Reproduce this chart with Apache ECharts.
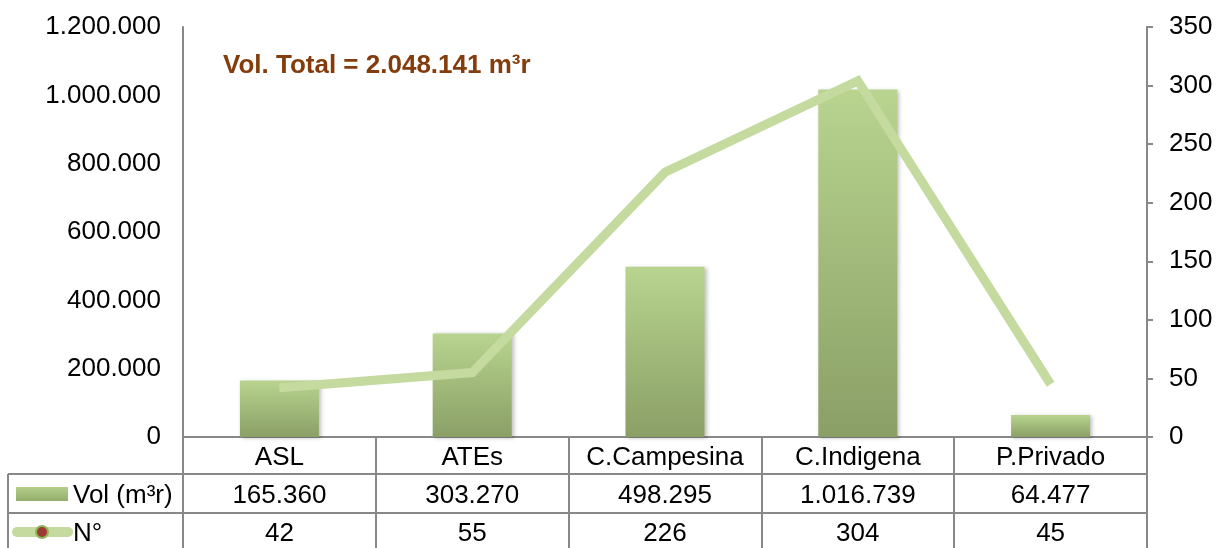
<!DOCTYPE html>
<html><head><meta charset="utf-8">
<script src="https://cdn.jsdelivr.net/npm/echarts@6/dist/echarts.min.js"></script>
<style>html,body{margin:0;padding:0;background:#fff}#c{width:1217px;height:548px}</style>
</head><body><div id="c"></div>
<script>
var categories = ['ASL', 'ATEs', 'C.Campesina', 'C.Indigena', 'P.Privado'];
var volumes = [165360, 303270, 498295, 1016739, 64477];
var counts = [42, 55, 226, 304, 45];
var seriesNames = ['Vol (m³r)', 'N°'];
var titleText = 'Vol. Total = 2.048.141 m³r';

function fmt(n) { return String(n).replace(/\B(?=(\d{3})+(?!\d))/g, '.'); }

var FONT = '"Liberation Sans", Arial, sans-serif';
var GRID = { left: 183, right: 70, top: 27, bottom: 111, containLabel: false, outerBoundsMode: 'none' };
var LINE_C = '#888888';
var barGrad = new echarts.graphic.LinearGradient(0, 0, 0, 1, [
  { offset: 0, color: '#b8d48f' }, { offset: 1, color: '#8a9f66' }
]);
var legGrad = new echarts.graphic.LinearGradient(0, 0, 0, 1, [
  { offset: 0, color: '#b3cf8a' }, { offset: 1, color: '#94ad6c' }
]);

function catAxis(offset, formatter, withLine) {
  return {
    type: 'category', data: categories, position: 'bottom', offset: offset,
    boundaryGap: true,
    axisLine: { show: withLine, lineStyle: { color: LINE_C, width: 2 } },
    axisTick: withLine ? { show: true, interval: 0, alignWithLabel: false, length: 111, lineStyle: { color: LINE_C, width: 2 } } : { show: false },
    axisLabel: { interval: 0, margin: 2, fontSize: 26, lineHeight: 38, color: '#000', fontFamily: FONT, formatter: formatter }
  };
}

var chart = echarts.init(document.getElementById('c'), null, { renderer: 'canvas' });
chart.setOption({
  animation: false,
  textStyle: { fontFamily: FONT },
  grid: GRID,
  xAxis: [
    catAxis(0, function (v) { return v; }, true),
    catAxis(38, function (v, i) { return fmt(volumes[i]); }, false),
    catAxis(76, function (v, i) { return String(counts[i]); }, false)
  ],
  yAxis: [
    {
      type: 'value', min: 0, max: 1200000, interval: 200000, position: 'left',
      axisLine: { show: true, lineStyle: { color: LINE_C, width: 2 } },
      axisTick: { show: false }, splitLine: { show: false },
      axisLabel: { fontSize: 26, color: '#000', margin: 22, padding: [10, 0, 0, 0], fontFamily: FONT, formatter: function (v) { return fmt(v); } }
    },
    {
      type: 'value', min: 0, max: 350, interval: 50, position: 'right',
      axisLine: { show: true, lineStyle: { color: LINE_C, width: 2 } },
      axisTick: { show: true, inside: false, length: 6, lineStyle: { color: LINE_C, width: 2 } },
      splitLine: { show: false },
      axisLabel: { fontSize: 26, color: '#000', margin: 22, padding: [10, 0, 0, 0], fontFamily: FONT }
    }
  ],
  series: [
    {
      name: seriesNames[0], type: 'bar', xAxisIndex: 0, yAxisIndex: 0, data: volumes, barWidth: 79,
      itemStyle: { color: barGrad, shadowColor: 'rgba(0,0,0,0.25)', shadowBlur: 4, shadowOffsetX: 2, shadowOffsetY: 1 }
    },
    {
      name: seriesNames[1], type: 'line', xAxisIndex: 0, yAxisIndex: 1, data: counts, symbol: 'none', z: 5,
      lineStyle: { color: '#c4da9f', width: 9, cap: 'butt', join: 'miter' }
    }
  ],
  graphic: [
    { type: 'text', left: 223, top: 53, style: { text: titleText, fill: '#843c0c', font: 'bold 26px ' + FONT } },
    { type: 'line', shape: { x1: 8, y1: 474, x2: 1147, y2: 474 }, style: { stroke: LINE_C, lineWidth: 2 } },
    { type: 'line', shape: { x1: 8, y1: 513, x2: 1147, y2: 513 }, style: { stroke: LINE_C, lineWidth: 2 } },
    { type: 'line', shape: { x1: 8, y1: 474, x2: 8, y2: 548 }, style: { stroke: LINE_C, lineWidth: 2 } },
    { type: 'rect', shape: { x: 16, y: 487, width: 52, height: 14 }, style: { fill: legGrad } },
    { type: 'text', x: 73, y: 496, style: { text: seriesNames[0], fill: '#000', font: '26px ' + FONT, verticalAlign: 'middle' } },
    { type: 'line', shape: { x1: 17, y1: 532, x2: 68, y2: 532 }, style: { stroke: '#c4da9f', lineWidth: 10, lineCap: 'round' } },
    { type: 'circle', shape: { cx: 42, cy: 532, r: 6 }, style: { fill: '#9c3a33', stroke: '#8db65a', lineWidth: 2 } },
    { type: 'text', x: 73, y: 534, style: { text: seriesNames[1], fill: '#000', font: '26px ' + FONT, verticalAlign: 'middle' } }
  ]
});
</script></body></html>
